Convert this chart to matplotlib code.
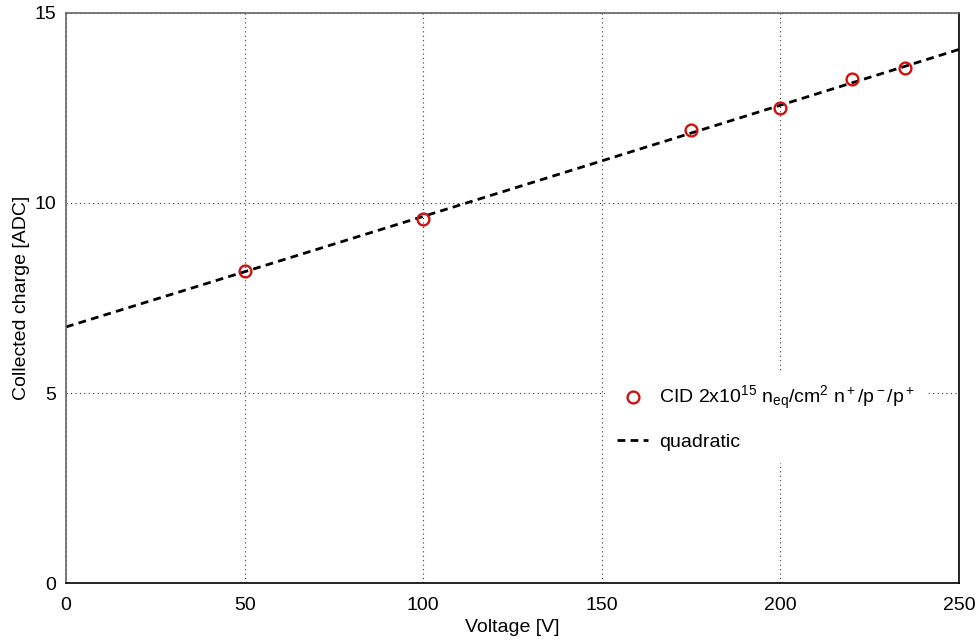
import numpy as np
import matplotlib
matplotlib.use("Agg")
import matplotlib.pyplot as plt

plt.rcParams['font.family'] = ['Liberation Sans', 'DejaVu Sans']
plt.rcParams['mathtext.fontset'] = 'custom'
plt.rcParams['mathtext.rm'] = 'Liberation Sans'
plt.rcParams['mathtext.it'] = 'Liberation Sans'
plt.rcParams['mathtext.default'] = 'regular'

# measured charge vs bias voltage
voltage = [50, 100, 175, 200, 220, 235]
charge = [8.22, 9.58, 11.92, 12.50, 13.25, 13.54]

# quadratic fit through the points
coef = np.polyfit(voltage, charge, 2)
v_fit = np.linspace(0, 250, 200)
q_fit = np.polyval(coef, v_fit)

fig = plt.figure(figsize=(9.77, 6.43), dpi=100)
ax = fig.add_axes([0.0676, 0.0933, 0.914, 0.8865])

ax.plot(voltage, charge, 'o', mfc='none', mec='#cc1111', mew=1.7, ms=8.5,
        label=r'CID 2x10$^{15}$ n$_{eq}$/cm$^2$ n$^+$/p$^-$/p$^+$', zorder=3)
ax.plot(v_fit, q_fit, color='black', lw=2.0, ls=(0, (2.8, 1.9)),
        label='quadratic', zorder=2)

ax.set_xlim(0, 250)
ax.set_ylim(0, 15)
ax.set_xticks([0, 50, 100, 150, 200, 250])
ax.set_yticks([0, 5, 10, 15])
ax.tick_params(axis='x', labelsize=14, length=0, pad=10)
ax.tick_params(axis='y', labelsize=14, length=0, pad=7)
ax.grid(True, color='#333333', ls=(0, (1, 3)), lw=0.8)

for side in ['left', 'top']:
    ax.spines[side].set_color('#666666')
for side in ['right', 'bottom']:
    ax.spines[side].set_color('black')
for s in ax.spines.values():
    s.set_linewidth(1.2)

ax.set_xlabel('Voltage [V]', fontsize=14, labelpad=4)
ax.set_ylabel('Collected charge [ADC]', fontsize=14, labelpad=3)

leg = ax.legend(loc='center left', bbox_to_anchor=(0.593, 0.29), fontsize=14,
                frameon=True, facecolor='white', edgecolor='none',
                framealpha=1, fancybox=False, handlelength=1.6,
                handletextpad=0.55, labelspacing=1.1, borderpad=0.6)

fig.savefig('out.png', dpi=100)
